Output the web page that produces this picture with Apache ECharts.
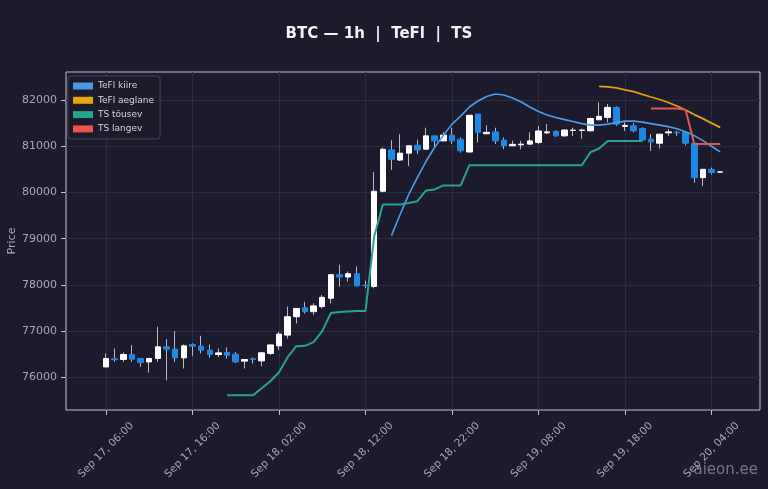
<!DOCTYPE html>
<html>
<head>
<meta charset="utf-8">
<script src="https://cdn.jsdelivr.net/npm/echarts@6/dist/echarts.min.js"></script>
<style>
  html, body { margin: 0; padding: 0; background: #1b1b2d; }
  #chart { width: 768px; height: 489px; }
</style>
</head>
<body>
<div id="chart"></div>
<script>
// 1h candles, first one Sep 17 06:00 (UTC)
const startTime = Date.UTC(2025, 8, 17, 6);
const HOUR = 3600 * 1000;

const opens  = [76224, 76400, 76385, 76493, 76407, 76333, 76407, 76659, 76609, 76420, 76711, 76674, 76587, 76493, 76537,
                76500, 76350, 76400, 76355, 76515, 76680, 76913, 77310, 77505, 77420, 77530, 77710, 78220, 78170, 78240,
                77990, 77965, 80025, 80920, 80700, 80850, 81020, 80935, 81225, 81115, 81240, 81150, 80875, 81695, 81270,
                81310, 81130, 81010, 81030, 81045, 81080, 81290, 81320, 81225, 81340, 81340, 81333, 81572, 81624, 81841,
                81430, 81441, 81385, 81152, 81065, 81290, 81300, 81300, 81065, 80320, 80500, 80440];
const closes = [76407, 76380, 76493, 76391, 76320, 76407, 76659, 76609, 76420, 76680, 76674, 76587, 76493, 76528, 76478,
                76333, 76385, 76385, 76530, 76700, 76935, 77310, 77490, 77420, 77545, 77730, 78220, 78170, 78240, 77980,
                77980, 80025, 80935, 80717, 80850, 81010, 80920, 81225, 81115, 81240, 81115, 80900, 81670, 81300, 81300,
                81115, 81010, 81040, 81045, 81115, 81330, 81310, 81225, 81350, 81350, 81350, 81600, 81646, 81841, 81478,
                81450, 81333, 81137, 81094, 81260, 81310, 81290, 81065, 80320, 80500, 80430, 80445];
const lows   = [76224, 76333, 76333, 76333, 76224, 76102, 76333, 75935, 76333, 76190, 76463, 76515, 76420, 76441, 76407,
                76310, 76190, 76300, 76240, 76480, 76590, 76840, 77165, 77380, 77350, 77490, 77600, 77960, 78070, 77960,
                77925, 77925, 80000, 80485, 80680, 80570, 80830, 80935, 80970, 81115, 81050, 80860, 80860, 81080, 81260,
                81050, 80935, 81000, 80935, 81040, 81040, 81260, 81200, 81200, 81220, 81160, 81330, 81572, 81515, 81441,
                81333, 81300, 81115, 80898, 80950, 81225, 81225, 81020, 80210, 80137, 80390, 80430];
const highs  = [76515, 76624, 76537, 76696, 76413, 76407, 77093, 76826, 77000, 76711, 76733, 76898, 76711, 76624, 76646,
                76550, 76385, 76430, 76530, 76700, 76985, 77530, 77490, 77635, 77600, 77780, 78220, 78435, 78290, 78400,
                78090, 80440, 80970, 81130, 81260, 81010, 81140, 81400, 81225, 81300, 81400, 81190, 81670, 81695, 81455,
                81400, 81190, 81120, 81115, 81300, 81440, 81480, 81340, 81370, 81400, 81380, 81620, 81950, 81913, 81863,
                81515, 81500, 81407, 81260, 81260, 81370, 81333, 81300, 81065, 80500, 80537, 80450];

// indicator lines: index of the first candle they start at + values
const kiireStart = 33;
const kiire = [79065, 79522, 79957, 80326, 80674, 80978, 81239, 81478, 81652, 81848, 81978, 82076, 82130, 82109,
               82043, 81957, 81848, 81750, 81674, 81620, 81576, 81533, 81489, 81457, 81457, 81478, 81511, 81543,
               81543, 81522, 81489, 81457, 81424, 81380, 81315, 81228, 81120, 81000, 80876];
const aeglaneStart = 57;
const aeglane = [82297, 82283, 82261, 82217, 82180, 82120, 82065, 82011, 81946, 81870, 81783, 81685, 81598, 81500, 81407];
const tsUpStart = 14;
const tsUp = [75609, 75609, 75609, 75609, 75761, 75913, 76109, 76435, 76674, 76680, 76761, 77000, 77391, 77413,
              77424, 77435, 77435, 79043, 79739, 79739, 79739, 79772, 79811, 80043, 80065, 80152, 80152, 80152,
              80587, 80587, 80587, 80587, 80587, 80587, 80587, 80587, 80587, 80587, 80587, 80587, 80587, 80587,
              80870, 80950, 81115, 81115, 81115, 81115, 81115];
const tsDownStart = 63;
const tsDown = [81815, 81815, 81815, 81815, 81790, 81050, 81050, 81050, 81050];

const xTickHours = [0, 10, 20, 30, 40, 50, 60, 70];
const yTicks = [76000, 77000, 78000, 79000, 80000, 81000, 82000];

const months = ['Jan', 'Feb', 'Mar', 'Apr', 'May', 'Jun', 'Jul', 'Aug', 'Sep', 'Oct', 'Nov', 'Dec'];
const pad = n => (n < 10 ? '0' : '') + n;
const fmtTime = v => {
  const d = new Date(v);
  return months[d.getUTCMonth()] + ' ' + d.getUTCDate() + ', ' + pad(d.getUTCHours()) + ':' + pad(d.getUTCMinutes());
};

const t = i => startTime + i * HOUR;
const candleData = opens.map((o, i) => [t(i), o, closes[i], lows[i], highs[i]]);
// bodies only (no wick), so the wicks stay grey underneath
const bodyData = opens.map((o, i) => [t(i), o, closes[i], Math.min(o, closes[i]), Math.max(o, closes[i])]);
const lineData = (start, vals) => vals.map((v, k) => [t(start + k), v]);

const FONT = 'DejaVu Sans';
const gridColor = '#2b2b42';
const frameColor = '#c4c4cc';
const labelColor = '#a9a9b5';

const chart = echarts.init(document.getElementById('chart'));

const option = {
  animation: false,
  backgroundColor: '#1b1b2d',
  textStyle: { fontFamily: FONT },
  title: {
    text: 'BTC — 1h  |  TeFl  |  TS',
    left: 374,
    textAlign: 'center',
    top: 22,
    textStyle: { color: '#f2f2f2', fontSize: 15, fontWeight: 'bold', fontFamily: FONT }
  },
  legend: {
    data: ['TeFl kiire', 'TeFl aeglane', 'TS tõusev', 'TS langev'],
    orient: 'vertical',
    left: 68,
    top: 76,
    icon: 'rect',
    itemWidth: 20,
    itemHeight: 7,
    itemGap: 2.3,
    padding: [4, 6, 4, 5],
    backgroundColor: 'rgba(27,27,45,0.85)',
    borderColor: '#45455a',
    borderWidth: 1,
    borderRadius: 3,
    textStyle: { color: '#d6d6de', fontSize: 9, lineHeight: 12, fontFamily: FONT }
  },
  grid: {
    left: 66, right: 8, top: 72, bottom: 79,
    containLabel: false,
    outerBoundsMode: 'none',
    show: true,
    borderColor: frameColor,
    borderWidth: 1,
    backgroundColor: 'transparent'
  },
  xAxis: {
    type: 'value',
    min: startTime - 4.62 * HOUR,
    max: startTime + 75.6 * HOUR,
    axisLine: { show: false },
    axisTick: {
      show: true, length: 5, lineStyle: { color: frameColor },
      customValues: xTickHours.map(h => t(h))
    },
    splitLine: { show: true, lineStyle: { color: gridColor, width: 1 } },
    axisLabel: {
      customValues: xTickHours.map(h => t(h)),
      formatter: fmtTime,
      rotate: 45,
      align: 'center',
      verticalAlign: 'middle',
      margin: 40,
      color: labelColor,
      fontSize: 10.5,
      fontFamily: FONT
    }
  },
  yAxis: {
    type: 'value',
    min: 75292,
    max: 82606,
    name: 'Price',
    nameLocation: 'middle',
    nameGap: 48,
    nameMoveOverlap: false,
    nameTextStyle: { color: labelColor, fontSize: 11, fontFamily: FONT },
    axisLine: { show: false },
    axisTick: {
      show: true, length: 5, lineStyle: { color: frameColor },
      customValues: yTicks
    },
    splitLine: { show: true, lineStyle: { color: gridColor, width: 1 } },
    axisLabel: {
      customValues: yTicks,
      formatter: v => String(v),
      margin: 9,
      color: labelColor,
      fontSize: 11,
      fontFamily: FONT
    }
  },
  series: [
    {
      name: 'wicks',
      type: 'candlestick',
      data: candleData,
      encode: { x: 0, y: [1, 2, 3, 4] },
      barWidth: 1,
      itemStyle: {
        color: '#c8c8d0', color0: '#c8c8d0',
        borderColor: '#b8b8c2', borderColor0: '#b8b8c2', borderWidth: 1
      },
      z: 2
    },
    {
      name: 'candles',
      type: 'candlestick',
      data: bodyData,
      encode: { x: 0, y: [1, 2, 3, 4] },
      barWidth: 6,
      itemStyle: {
        color: '#ffffff', color0: '#1e88e5',
        borderColor: '#ffffff', borderColor0: '#1e88e5', borderWidth: 1
      },
      z: 3
    },
    {
      name: 'TeFl kiire', type: 'line', data: lineData(kiireStart, kiire),
      showSymbol: false, color: '#4a97e8',
      lineStyle: { width: 1.6, color: '#4f9be8' }, z: 4
    },
    {
      name: 'TeFl aeglane', type: 'line', data: lineData(aeglaneStart, aeglane),
      showSymbol: false, color: '#e9a412',
      lineStyle: { width: 1.8, color: '#e0a01a' }, z: 4
    },
    {
      name: 'TS tõusev', type: 'line', data: lineData(tsUpStart, tsUp),
      showSymbol: false, color: '#26a68f',
      lineStyle: { width: 2, color: '#2aa38e' }, z: 4
    },
    {
      name: 'TS langev', type: 'line', data: lineData(tsDownStart, tsDown),
      showSymbol: false, color: '#ef5350',
      lineStyle: { width: 2, color: '#e05555' }, z: 4
    }
  ],
  graphic: [
    {
      type: 'text',
      right: 10,
      top: 463,
      style: { text: 'aieon.ee', fill: 'rgba(165,165,180,0.65)', font: '15px "DejaVu Sans"' }
    }
  ]
};

chart.setOption(option);
</script>
</body>
</html>
